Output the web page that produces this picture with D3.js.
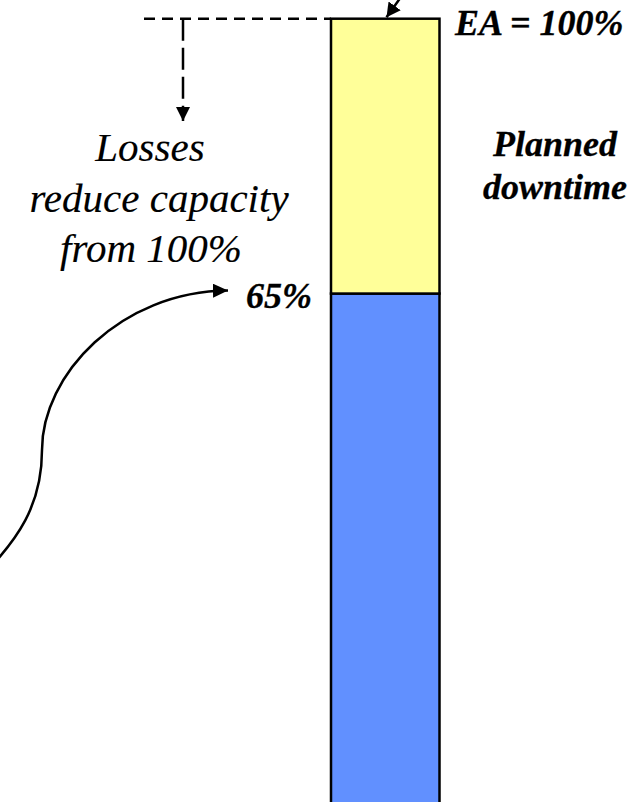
<!DOCTYPE html>
<html>
<head>
<meta charset="utf-8">
<script src="https://cdn.jsdelivr.net/npm/d3@7"></script>
<style>
  html, body { margin: 0; padding: 0; background: #fff; }
  svg { display: block; }
  svg text { font-family: "Liberation Serif", "Times New Roman", "DejaVu Serif", serif; font-style: italic; fill: #000; }
  svg text.note { stroke: #000; stroke-width: 0.15px; }
  svg text.strong { font-weight: bold; stroke: #000; stroke-width: 0.3px; }
</style>
</head>
<body>
<svg id="chart" width="644" height="802"></svg>
<script>
// Stacked capacity column: productive share plus planned downtime
const segments = ["Capacity", "Planned downtime"];
const segmentValues = [65, 35];
const segmentColors = ["#6190ff", "#ffff99"];
const levelLabels = ["65%", "EA = 100%"];
const noteLines = ["Losses", "reduce capacity", "from 100%"];
const sideLines = ["Planned", "downtime"];

const svg = d3.select("#chart");

// Vertical value scale: 0% sits just below the frame, 100% near the top
const y = d3.scaleLinear().domain([0, 100]).range([804, 18.7]);
const x = d3.scaleBand().domain(["EA"]).range([331, 439.5]).padding(0);

// Cumulative stack
let acc = 0;
const stacked = segments.map((name, i) => {
  const s = { name, y0: acc, y1: acc + segmentValues[i], color: segmentColors[i] };
  acc += segmentValues[i];
  return s;
});

// Arrow heads
const defs = svg.append("defs");
function head(id, len, half) {
  defs.append("marker")
    .attr("id", id)
    .attr("markerUnits", "userSpaceOnUse")
    .attr("viewBox", `0 ${-half} ${len} ${2 * half}`)
    .attr("refX", len).attr("refY", 0)
    .attr("markerWidth", len).attr("markerHeight", 2 * half)
    .attr("orient", "auto")
    .append("path")
    .attr("d", `M0,${-half}L${len},0L0,${half}Z`)
    .attr("fill", "#000");
}
head("arrowCurve", 15, 7);
head("arrowDash", 14, 7);
head("arrowTop", 14, 7.5);

// Column segments
svg.append("g").selectAll("rect")
  .data(stacked)
  .join("rect")
  .attr("x", x("EA"))
  .attr("width", x.bandwidth())
  .attr("y", d => y(d.y1))
  .attr("height", d => y(d.y0) - y(d.y1))
  .attr("fill", d => d.color)
  .attr("stroke", "#000")
  .attr("stroke-width", 2.5);

// Dashed reference line at 100% and the drop arrow
const yFull = y(100);
svg.append("line")
  .attr("x1", 144).attr("x2", x("EA")).attr("y1", yFull).attr("y2", yFull)
  .attr("stroke", "#000").attr("stroke-width", 2.5)
  .attr("stroke-dasharray", "11,7");
svg.append("line")
  .attr("x1", 183).attr("x2", 183).attr("y1", yFull).attr("y2", 121)
  .attr("stroke", "#000").attr("stroke-width", 2.5)
  .attr("stroke-dasharray", "22,7")
  .attr("marker-end", "url(#arrowDash)");

// Pointer onto the top of the column
svg.append("line")
  .attr("x1", 406).attr("y1", -10).attr("x2", 386.5).attr("y2", yFull - 1.5)
  .attr("stroke", "#000").attr("stroke-width", 2.5)
  .attr("marker-end", "url(#arrowTop)");

// Curved arrow reaching the 65% level
const y65 = y(stacked[0].y1);
const curve = d3.path();
curve.moveTo(-20, 578);
curve.bezierCurveTo(18, 540, 42, 505, 42, 450);
curve.bezierCurveTo(42, 375, 120, y65 - 2, 228, y65 - 3);
svg.append("path")
  .attr("d", curve.toString())
  .attr("fill", "none")
  .attr("stroke", "#000")
  .attr("stroke-width", 2.5)
  .attr("marker-end", "url(#arrowCurve)");

// Level labels
svg.append("text")
  .attr("class", "strong")
  .attr("x", 312).attr("y", y65 + 14)
  .attr("text-anchor", "end")
  .style("font-size", "36px")
  .text(levelLabels[0]);
svg.append("text")
  .attr("class", "strong")
  .attr("x", 455).attr("y", yFull + 16)
  .style("font-size", "36px")
  .text(levelLabels[1]);

// Segment label beside the downtime block
svg.append("g").selectAll("text")
  .data(sideLines)
  .join("text")
  .attr("class", "strong")
  .attr("x", 555)
  .attr("y", (d, i) => 156 + i * 43)
  .attr("text-anchor", "middle")
  .style("font-size", "36px")
  .text(d => d);

// Explanatory note
const noteX = [150, 159, 151];
svg.append("g").selectAll("text")
  .data(noteLines)
  .join("text")
  .attr("class", "note")
  .attr("x", (d, i) => noteX[i])
  .attr("y", (d, i) => 161 + i * 50.5)
  .attr("text-anchor", "middle")
  .style("font-size", "41px")
  .text(d => d);
</script>
</body>
</html>
